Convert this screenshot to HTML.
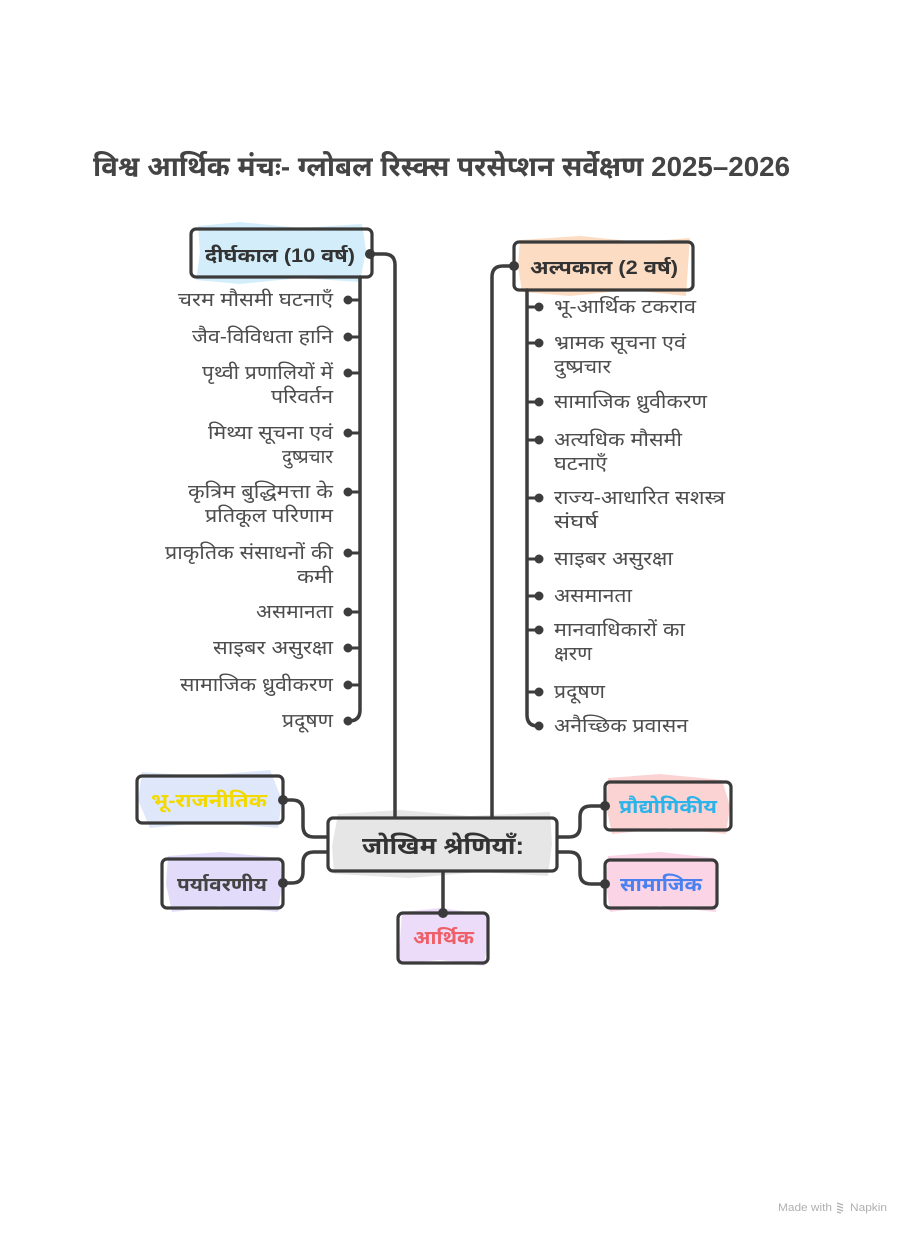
<!DOCTYPE html>
<html>
<head>
<meta charset="utf-8">
<style>
html,body{margin:0;padding:0;background:#fff;}
svg{display:block;}
text{font-family:"Liberation Sans","Noto Sans Devanagari","Lohit Devanagari","FreeSans",sans-serif;}
.it{font-size:19px;fill:#4d4d4d;}
.bx{font-size:19px;font-weight:bold;fill:#333;}
</style>
</head>
<body>
<svg width="911" height="1235" viewBox="0 0 911 1235" xmlns="http://www.w3.org/2000/svg">
<rect width="911" height="1235" fill="#fff"/>

<!-- Title -->
<text x="93" y="176" font-size="28" font-weight="bold" fill="#444" textLength="697" lengthAdjust="spacingAndGlyphs">विश्व आर्थिक मंचः- ग्लोबल रिस्क्स परसेप्शन सर्वेक्षण 2025–2026</text>

<!-- pastel fills -->
<g>
<polygon points="198,226 240,222 300,228 362,224 366,250 360,282 300,278 240,284 196,280 200,252" fill="#d3eefa"/>
<polygon points="520,240 580,236 640,242 690,238 688,266 686,296 630,290 570,296 522,292 518,266" fill="#fcdcc2"/>
<polygon points="338,814 400,810 470,816 550,812 552,844 548,876 480,872 410,878 334,874 332,846" fill="#e6e6e6"/>
<polygon points="142,772 200,776 270,770 282,800 278,828 210,822 150,828 138,800" fill="#dfe8fa"/>
<polygon points="168,856 220,852 280,858 282,884 278,912 220,906 172,912 166,884" fill="#e2dcfa"/>
<polygon points="402,912 440,908 486,914 488,940 484,966 440,960 398,964 400,940" fill="#ecdcfa"/>
<polygon points="608,778 660,774 722,780 730,806 726,834 670,828 612,834 606,806" fill="#fbd3d3"/>
<polygon points="608,856 660,852 714,858 718,884 716,912 660,906 610,912 606,884" fill="#fbd5e5"/>
</g>

<!-- connectors -->
<g fill="none" stroke="#3d3d3d" stroke-width="3.5" stroke-linecap="round">
<path d="M370,254 H384 Q395,254 395,265 V817"/>
<path d="M513,266 H503 Q492,266 492,277 V817"/>
<path d="M360,277 V710 Q360,721 349,721"/>
<path d="M527,290 V715 Q527,726 538,726"/>
<path d="M283,800 H292 Q303,800 303,811 V826 Q303,837 314,837 H327"/>
<path d="M283,883 H292 Q303,883 303,872 V863 Q303,852 314,852 H327"/>
<path d="M558,837 H569 Q580,837 580,826 V817 Q580,806 591,806 H604"/>
<path d="M558,852 H569 Q580,852 580,863 V873 Q580,884 591,884 H604"/>
<path d="M443,872 V913"/>
</g>

<!-- left bullets -->
<g stroke="#3d3d3d" stroke-width="3" fill="#3d3d3d">
<line x1="348" y1="300" x2="360" y2="300"/><circle cx="348" cy="300" r="3"/>
<line x1="348" y1="337" x2="360" y2="337"/><circle cx="348" cy="337" r="3"/>
<line x1="348" y1="373" x2="360" y2="373"/><circle cx="348" cy="373" r="3"/>
<line x1="348" y1="433" x2="360" y2="433"/><circle cx="348" cy="433" r="3"/>
<line x1="348" y1="492" x2="360" y2="492"/><circle cx="348" cy="492" r="3"/>
<line x1="348" y1="553" x2="360" y2="553"/><circle cx="348" cy="553" r="3"/>
<line x1="348" y1="612" x2="360" y2="612"/><circle cx="348" cy="612" r="3"/>
<line x1="348" y1="648" x2="360" y2="648"/><circle cx="348" cy="648" r="3"/>
<line x1="348" y1="685" x2="360" y2="685"/><circle cx="348" cy="685" r="3"/>
<circle cx="348" cy="721" r="3"/>
</g>
<!-- right bullets -->
<g stroke="#3d3d3d" stroke-width="3" fill="#3d3d3d">
<line x1="527" y1="307" x2="539" y2="307"/><circle cx="539" cy="307" r="3"/>
<line x1="527" y1="343" x2="539" y2="343"/><circle cx="539" cy="343" r="3"/>
<line x1="527" y1="402" x2="539" y2="402"/><circle cx="539" cy="402" r="3"/>
<line x1="527" y1="440" x2="539" y2="440"/><circle cx="539" cy="440" r="3"/>
<line x1="527" y1="498" x2="539" y2="498"/><circle cx="539" cy="498" r="3"/>
<line x1="527" y1="559" x2="539" y2="559"/><circle cx="539" cy="559" r="3"/>
<line x1="527" y1="596" x2="539" y2="596"/><circle cx="539" cy="596" r="3"/>
<line x1="527" y1="630" x2="539" y2="630"/><circle cx="539" cy="630" r="3"/>
<line x1="527" y1="692" x2="539" y2="692"/><circle cx="539" cy="692" r="3"/>
<circle cx="539" cy="726" r="3"/>
</g>

<!-- boxes -->
<g fill="none" stroke="#3a3a3a" stroke-width="3.2">
<rect x="191" y="229" width="181" height="48" rx="5"/>
<rect x="514" y="242" width="179" height="48" rx="5"/>
<rect x="328" y="818" width="229" height="53" rx="5"/>
<rect x="137" y="776" width="146" height="47" rx="5"/>
<rect x="162" y="859" width="121" height="49" rx="5"/>
<rect x="398" y="913" width="90" height="50" rx="5"/>
<rect x="605" y="782" width="126" height="48" rx="5"/>
<rect x="605" y="860" width="112" height="48" rx="5"/>
</g>

<!-- connection dots -->
<g fill="#3a3a3a">
<circle cx="370" cy="254" r="5"/>
<circle cx="514" cy="266" r="5"/>
<circle cx="283" cy="800" r="5"/>
<circle cx="283" cy="883" r="5"/>
<circle cx="605" cy="806" r="5"/>
<circle cx="605" cy="884" r="5"/>
<circle cx="443" cy="913" r="5"/>
</g>

<!-- box labels -->
<text class="bx" x="205" y="262" textLength="150" lengthAdjust="spacingAndGlyphs">दीर्घकाल (10 वर्ष)</text>
<text class="bx" x="530" y="274" textLength="148" lengthAdjust="spacingAndGlyphs">अल्पकाल (2 वर्ष)</text>
<text x="362" y="854" font-size="24" font-weight="bold" fill="#333" textLength="162" lengthAdjust="spacingAndGlyphs">जोखिम श्रेणियाँ:</text>
<text x="151" y="807" font-size="19" font-weight="bold" fill="#f2d900" textLength="116" lengthAdjust="spacingAndGlyphs">भू-राजनीतिक</text>
<text x="177" y="891" font-size="19" font-weight="bold" fill="#444" textLength="90" lengthAdjust="spacingAndGlyphs">पर्यावरणीय</text>
<text x="413" y="944" font-size="19" font-weight="bold" fill="#ef5f68" textLength="61" lengthAdjust="spacingAndGlyphs">आर्थिक</text>
<text x="619" y="813" font-size="19" font-weight="bold" fill="#2bb4ea" textLength="98" lengthAdjust="spacingAndGlyphs">प्रौद्योगिकीय</text>
<text x="620" y="891" font-size="19" font-weight="bold" fill="#4a80ef" textLength="82" lengthAdjust="spacingAndGlyphs">सामाजिक</text>

<!-- left items (right-aligned at 333) -->
<g text-anchor="end">
<text class="it" x="333" y="306" textLength="155" lengthAdjust="spacingAndGlyphs">चरम मौसमी घटनाएँ</text>
<text class="it" x="333" y="343" textLength="141" lengthAdjust="spacingAndGlyphs">जैव-विविधता हानि</text>
<text class="it" x="333" y="379" textLength="131" lengthAdjust="spacingAndGlyphs">पृथ्वी प्रणालियों में</text>
<text class="it" x="333" y="403" textLength="62" lengthAdjust="spacingAndGlyphs">परिवर्तन</text>
<text class="it" x="333" y="439" textLength="125" lengthAdjust="spacingAndGlyphs">मिथ्या सूचना एवं</text>
<text class="it" x="333" y="463" textLength="51" lengthAdjust="spacingAndGlyphs">दुष्प्रचार</text>
<text class="it" x="333" y="498" textLength="145" lengthAdjust="spacingAndGlyphs">कृत्रिम बुद्धिमत्ता के</text>
<text class="it" x="333" y="522" textLength="128" lengthAdjust="spacingAndGlyphs">प्रतिकूल परिणाम</text>
<text class="it" x="333" y="559" textLength="168" lengthAdjust="spacingAndGlyphs">प्राकृतिक संसाधनों की</text>
<text class="it" x="333" y="583" textLength="36" lengthAdjust="spacingAndGlyphs">कमी</text>
<text class="it" x="333" y="618" textLength="77" lengthAdjust="spacingAndGlyphs">असमानता</text>
<text class="it" x="333" y="654" textLength="120" lengthAdjust="spacingAndGlyphs">साइबर असुरक्षा</text>
<text class="it" x="333" y="691" textLength="153" lengthAdjust="spacingAndGlyphs">सामाजिक ध्रुवीकरण</text>
<text class="it" x="333" y="727" textLength="51" lengthAdjust="spacingAndGlyphs">प्रदूषण</text>
</g>

<!-- right items (left-aligned at 554) -->
<g>
<text class="it" x="554" y="313" textLength="142" lengthAdjust="spacingAndGlyphs">भू-आर्थिक टकराव</text>
<text class="it" x="554" y="349" textLength="132" lengthAdjust="spacingAndGlyphs">भ्रामक सूचना एवं</text>
<text class="it" x="554" y="373" textLength="57" lengthAdjust="spacingAndGlyphs">दुष्प्रचार</text>
<text class="it" x="554" y="408" textLength="153" lengthAdjust="spacingAndGlyphs">सामाजिक ध्रुवीकरण</text>
<text class="it" x="554" y="446" textLength="128" lengthAdjust="spacingAndGlyphs">अत्यधिक मौसमी</text>
<text class="it" x="554" y="470" textLength="53" lengthAdjust="spacingAndGlyphs">घटनाएँ</text>
<text class="it" x="554" y="504" textLength="171" lengthAdjust="spacingAndGlyphs">राज्य-आधारित सशस्त्र</text>
<text class="it" x="554" y="528" textLength="44" lengthAdjust="spacingAndGlyphs">संघर्ष</text>
<text class="it" x="554" y="565" textLength="119" lengthAdjust="spacingAndGlyphs">साइबर असुरक्षा</text>
<text class="it" x="554" y="602" textLength="78" lengthAdjust="spacingAndGlyphs">असमानता</text>
<text class="it" x="554" y="636" textLength="131" lengthAdjust="spacingAndGlyphs">मानवाधिकारों का</text>
<text class="it" x="554" y="660" textLength="38" lengthAdjust="spacingAndGlyphs">क्षरण</text>
<text class="it" x="554" y="698" textLength="51" lengthAdjust="spacingAndGlyphs">प्रदूषण</text>
<text class="it" x="554" y="732" textLength="134" lengthAdjust="spacingAndGlyphs">अनैच्छिक प्रवासन</text>
</g>

<!-- footer -->
<text x="778" y="1211" font-size="11" fill="#b0b0b0" textLength="54" lengthAdjust="spacingAndGlyphs">Made with</text>
<g stroke="#b0b0b0" stroke-width="1.2" fill="none">
<path d="M837,1203 l6,2 M837,1206 l6,2 M837,1209 l6,2 M837,1212 l4,1"/>
</g>
<text x="850" y="1211" font-size="11" fill="#b0b0b0" textLength="37" lengthAdjust="spacingAndGlyphs">Napkin</text>
</svg>
</body>
</html>
